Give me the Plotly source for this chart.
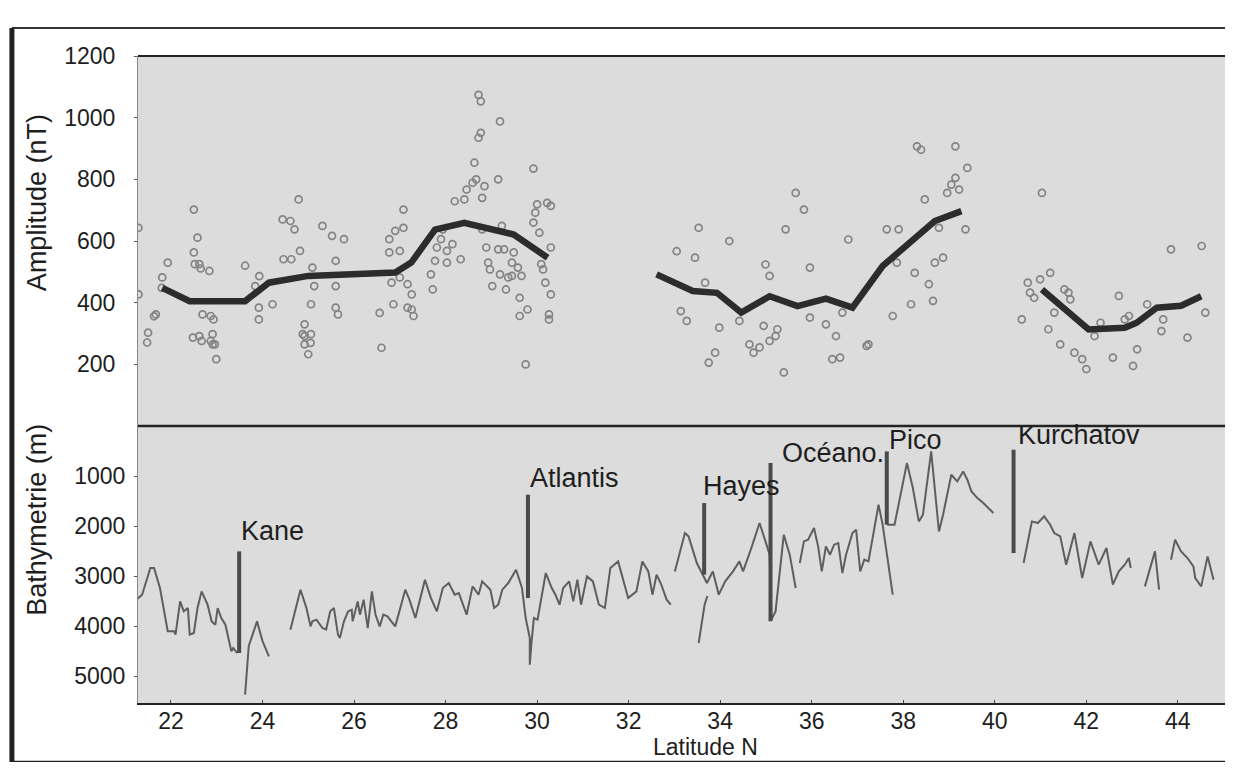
import plotly.graph_objects as go

# ---------------- data ----------------
amp_lat = [21.29, 21.29, 21.50, 21.48, 21.63, 21.67, 21.81, 21.93, 21.80,
           22.50, 22.58, 22.50, 22.52, 22.62, 22.65, 22.84, 22.48, 22.62, 22.67, 22.69,
           22.87, 22.87, 22.91, 22.96, 22.91, 22.99, 22.93,
           23.62, 23.84, 23.93, 23.92, 23.92, 24.22,
           24.44, 24.61, 24.70, 24.79, 24.46, 24.63, 24.82, 25.09, 25.13, 25.06, 24.92,
           24.88, 24.92, 25.06, 24.92, 25.00, 25.05,
           25.31, 25.52, 25.78, 25.60, 25.60, 25.60, 25.65,
           26.56, 26.60, 26.77, 26.77, 26.82, 26.86, 26.90, 27.08, 27.08, 27.00, 27.00,
           27.17, 27.26, 27.17, 27.26, 27.30,
           27.68, 27.72, 27.77, 27.81, 27.90, 27.94, 28.03, 28.03, 28.15, 28.20, 28.33,
           28.41, 28.46, 28.59, 28.67, 28.63, 28.72, 28.77, 28.72, 28.77, 28.80, 28.85,
           28.80, 28.89, 28.93, 28.97, 29.02, 29.15, 29.19, 29.23, 29.15, 29.19, 29.28,
           29.32, 29.37, 29.45, 29.45, 29.49, 29.58, 29.66, 29.62, 29.62, 29.75, 29.79,
           29.92, 29.92, 29.96, 30.00, 30.05, 30.09, 30.13, 30.18, 30.22, 30.30, 30.30,
           30.30, 30.26, 30.26,
           33.05, 33.53, 33.45, 33.67, 33.14, 33.27, 34.20, 33.98, 34.42, 33.89, 33.75,
           34.64, 34.73, 34.86, 34.95, 34.99, 35.08, 35.08, 35.25, 35.21, 35.43, 35.65,
           35.83, 35.96, 35.39, 35.96, 36.31, 36.53, 36.45, 36.62, 36.67, 36.80, 37.24,
           37.20, 37.64, 37.90, 37.77, 37.86, 38.17, 38.25, 38.30, 38.39, 38.47, 38.56,
           38.65, 38.69, 38.87, 38.78, 38.96, 39.05, 39.14, 39.14, 39.22, 39.40, 39.36,
           41.03, 40.59, 40.72, 40.77, 40.86, 40.99, 41.21, 41.17, 41.30, 41.43, 41.52,
           41.61, 41.65, 41.74, 41.91, 42.00, 42.18, 42.31, 42.58, 42.71, 42.84, 42.93,
           43.02, 43.11, 43.33, 43.68, 43.64, 43.85, 44.21, 44.52, 44.60]
amp_val = [643, 427, 303, 271, 356, 362, 482, 530, 448,
           702, 611, 563, 525, 525, 511, 503, 287, 292, 276, 362,
           357, 276, 265, 265, 298, 217, 346,
           520, 454, 486, 384, 346, 395,
           670, 665, 638, 735, 541, 541, 568, 514, 454, 395, 330,
           298, 292, 298, 265, 233, 270,
           649, 617, 606, 536, 454, 384, 362,
           367, 254, 606, 563, 465, 395, 633, 702, 643, 568, 482,
           460, 427, 384, 378, 357,
           492, 443, 536, 579, 606, 638, 568, 530, 590, 729, 541,
           735, 767, 789, 800, 854, 935, 951, 1074, 1053, 740, 778,
           638, 579, 530, 508, 454, 800, 988, 649, 573, 492, 573,
           443, 482, 530, 487, 563, 514, 487, 416, 357, 200, 378,
           835, 660, 692, 719, 627, 525, 508, 465, 724, 714, 579,
           427, 362, 346,
           567, 643, 546, 465, 373, 341, 600, 319, 341, 238, 206,
           265, 238, 255, 325, 524, 487, 276, 314, 292, 638, 756,
           702, 514, 174, 352, 330, 292, 217, 222, 368, 605, 265,
           260, 638, 638, 357, 530, 395, 497, 907, 896, 735, 460,
           406, 530, 546, 643, 756, 783, 907, 805, 767, 837, 638,
           756, 346, 465, 433, 416, 476, 497, 314, 368, 265, 443,
           433, 411, 238, 217, 185, 292, 335, 222, 422, 346, 357,
           195, 249, 395, 346, 308, 573, 287, 584, 368]

trend_lat = [21.81, 22.41, 23.62, 24.14, 25.00, 26.90, 27.25, 27.77, 28.41, 29.49, 30.23, None,
             32.61, 33.40, 33.93, 34.46, 35.08, 35.69, 36.31, 36.89, 37.55, 38.69, 39.27, None,
             41.03, 42.05, 42.84, 43.10, 43.54, 44.07, 44.51]
trend_val = [448, 405, 405, 465, 487, 498, 530, 637, 659, 621, 546, None,
             492, 438, 432, 368, 421, 389, 413, 384, 519, 665, 697, None,
             443, 313, 319, 335, 384, 390, 421]

bathy_lat = [21.25, 21.37, 21.55, 21.63, 21.76, 21.93, 22.07, 22.10, 22.20, 22.28, 22.37, 22.41,
             22.50, 22.58, 22.67, 22.80, 22.89, 22.97, 23.02, 23.10, 23.19, 23.32, 23.36, 23.45, None,
             23.62, 23.70, 23.88, 24.00, 24.14, None,
             24.61, 24.83, 24.96, 25.05, 25.09, 25.18, 25.31, 25.39, 25.48, 25.56, 25.65, 25.69,
             25.78, 25.87, 25.95, 25.97, 26.08, 26.13, 26.21, 26.30, 26.39, 26.47, 26.56, 26.64,
             26.73, 26.82, 26.90, 27.12, 27.21, 27.34, 27.55, 27.68, 27.81, 27.94, 28.07, 28.20,
             28.29, 28.46, 28.59, 28.72, 28.80, 28.98, 29.06, 29.15, 29.24, 29.37, 29.54, 29.67,
             29.75, 29.84, 29.84, 29.88, 29.93, 30.01, 30.19, 30.32, 30.40, 30.49, 30.57, 30.70,
             30.79, 30.88, 30.96, 31.09, 31.22, 31.35, 31.48, 31.60, 31.77, 31.99, 32.17, 32.30,
             32.43, 32.52, 32.61, 32.70, 32.79, 32.83, 32.92, None,
             33.01, 33.23, 33.31, 33.49, 33.62, 33.71, 33.84, 33.97, 34.11, 34.28, 34.42, 34.50,
             34.68, 34.86, 34.99, 35.08, 35.12, 35.21, 35.39, 35.52, 35.65, None,
             33.53, 33.60, 33.66, 33.72, None,
             35.74, 35.83, 35.92, 36.05, 36.14, 36.22, 36.31, 36.40, 36.49, 36.58, 36.67, 36.75,
             36.89, 36.97, 37.06, 37.15, 37.24, 37.46, 37.55, 37.64, 37.77, None,
             37.65, 37.81, 38.08, 38.21, 38.34, 38.43, 38.61, 38.69, 38.78, 38.87, 39.05, 39.18,
             39.31, 39.40, 39.49, 39.62, 39.75, 39.97, None,
             40.63, 40.81, 40.94, 41.08, 41.21, 41.30, 41.43, 41.56, 41.74, 41.91, 42.09, 42.27,
             42.44, 42.58, 42.71, 42.84, 42.93, 42.97, None,
             43.28, 43.50, 43.59, None,
             43.85, 43.94, 44.07, 44.21, 44.34, 44.38, 44.51, 44.65, 44.78]
bathy_dep = [3473, 3373, 2840, 2840, 3240, 4107, 4107, 4173, 3507, 3707, 3640, 4173,
             4140, 3640, 3307, 3573, 3907, 3973, 3640, 3840, 3973, 4507, 4440, 4540, None,
             5373, 4400, 3907, 4300, 4607, None,
             4073, 3273, 3640, 4007, 3907, 3873, 4040, 4073, 3707, 3640, 4173, 4240,
             3907, 3707, 3673, 3907, 3507, 3773, 3473, 4040, 3307, 3773, 4007, 3773,
             3807, 3907, 4007, 3273, 3473, 3840, 3073, 3440, 3707, 3240, 3140, 3373,
             3340, 3773, 3207, 3373, 3107, 3273, 3640, 3573, 3273, 3140, 2873, 3240,
             3840, 4240, 4773, 4307, 3840, 3873, 2940, 3240, 3373, 3573, 3240, 3107,
             3507, 3073, 3573, 3007, 3107, 3573, 3640, 2840, 2707, 3440, 3307, 2707,
             2907, 3373, 2973, 3140, 3373, 3473, 3573, None,
             2907, 2140, 2207, 2740, 2973, 3140, 2907, 3373, 3107, 2907, 2707, 2907,
             2440, 1940, 2307, 2573, 3873, 3707, 2173, 2573, 3240, None,
             4340, 3900, 3573, 3400, None,
             2740, 2307, 2273, 2040, 2407, 2907, 2407, 2573, 2373, 2340, 2940, 2573,
             2140, 2073, 2907, 2673, 2707, 1573, 1973, 2573, 3373, None,
             1973, 1973, 740, 1240, 1907, 1773, 507, 1240, 2107, 1773, 973, 1107,
             907, 1073, 1307, 1440, 1540, 1740, None,
             2740, 1907, 1940, 1807, 1973, 2140, 2207, 2773, 2140, 3040, 2307, 2773,
             2440, 3173, 2907, 2773, 2640, 2840, None,
             3207, 2507, 3273, None,
             2673, 2273, 2507, 2640, 2807, 3040, 3207, 2607, 3073]

fz_names = ["Kane", "Atlantis", "Hayes", "Océano.", "Pico", "Kurchatov"]
fz_bar_lat = [23.49, 29.80, 33.65, 35.10, 37.64, 40.41]
fz_bar_top = [2507, 1373, 1540, 740, 507, 473]
fz_bar_bottom = [4540, 3440, 2973, 3907, 1973, 2540]
fz_label_lat = [23.53, 29.84, 33.62, 35.34, 37.68, 40.50]
fz_label_dep = [2100, 1040, 1200, 540, 270, 180]

x_ticks = [22, 24, 26, 28, 30, 32, 34, 36, 38, 40, 42, 44]
amp_ticks = [200, 400, 600, 800, 1000, 1200]
bathy_ticks = [1000, 2000, 3000, 4000, 5000]

# ---------------- figure ----------------
FONT = "Liberation Sans, Arial, sans-serif"
INK = "#1e1e1e"
fig = go.Figure()

fig.add_trace(go.Scatter(
    x=amp_lat, y=amp_val, mode="markers", xaxis="x", yaxis="y",
    marker=dict(symbol="circle-open", size=7, color="#838383", line=dict(width=1.7, color="#838383")),
    showlegend=False, hoverinfo="skip"))

fig.add_trace(go.Scatter(
    x=trend_lat, y=trend_val, mode="lines", xaxis="x", yaxis="y",
    line=dict(color="#2c2c2c", width=6.5), connectgaps=False,
    showlegend=False, hoverinfo="skip"))

fig.add_trace(go.Scatter(
    x=bathy_lat, y=bathy_dep, mode="lines", xaxis="x2", yaxis="y2",
    line=dict(color="#5e5e5e", width=2), connectgaps=False,
    showlegend=False, hoverinfo="skip"))

bar_x, bar_y = [], []
for lat, top, bot in zip(fz_bar_lat, fz_bar_top, fz_bar_bottom):
    bar_x += [lat, lat, None]
    bar_y += [top, bot, None]
fig.add_trace(go.Scatter(
    x=bar_x, y=bar_y, mode="lines", xaxis="x2", yaxis="y2",
    line=dict(color="#4a4a4a", width=4), connectgaps=False,
    showlegend=False, hoverinfo="skip"))

for name, lat, dep in zip(fz_names, fz_label_lat, fz_label_dep):
    fig.add_annotation(x=lat, y=dep, xref="x2", yref="y2", text=name, showarrow=False,
                       xanchor="left", yanchor="middle", xshift=-2,
                       font=dict(family=FONT, size=27, color=INK))

# axis titles as annotations (exact placement)
fig.add_annotation(x=-0.093, y=0.774, xref="paper", yref="paper", text="Amplitude (nT)",
                   textangle=-90, showarrow=False, xanchor="center", yanchor="middle",
                   font=dict(family=FONT, size=27, color=INK))
fig.add_annotation(x=-0.093, y=0.283, xref="paper", yref="paper", text="Bathymetrie (m)",
                   textangle=-90, showarrow=False, xanchor="center", yanchor="middle",
                   font=dict(family=FONT, size=27, color=INK))
fig.add_annotation(x=0.522, y=-0.0685, xref="paper", yref="paper", text="Latitude N",
                   showarrow=False, xanchor="center", yanchor="middle",
                   font=dict(family=FONT, size=23, color=INK))

XR = [21.28, 45.03]
split = 0.428
fig.update_layout(
    width=1217, height=754,
    margin=dict(l=130, r=0, t=48, b=59, autoexpand=False),
    paper_bgcolor="white", plot_bgcolor="#dcdcdc",
    font=dict(family=FONT, size=23, color=INK),
    xaxis=dict(domain=[0, 1], range=XR, anchor="y", showticklabels=False, ticks="",
               showgrid=False, zeroline=False, showline=False, automargin=False),
    xaxis2=dict(domain=[0, 1], range=XR, anchor="y2", tickvals=x_ticks, ticks="inside",
                ticklen=3, tickcolor="#444", showgrid=False, zeroline=False,
                showline=True, linecolor="#222", linewidth=2, automargin=False,
                tickfont=dict(family=FONT, size=23, color=INK), ticklabelstandoff=-4),
    yaxis=dict(domain=[split, 1], range=[0, 1200], tickvals=amp_ticks, ticks="outside",
               ticklen=3, tickcolor="#555", showgrid=False, zeroline=False,
               showline=True, linecolor="#888", linewidth=1, automargin=False,
               tickfont=dict(family=FONT, size=23, color=INK), ticklabelstandoff=14),
    yaxis2=dict(domain=[0, split], range=[5540, 0], tickvals=bathy_ticks, ticks="outside",
                ticklen=3, tickcolor="#555", showgrid=False, zeroline=False,
                showline=True, linecolor="#888", linewidth=1, automargin=False,
                tickfont=dict(family=FONT, size=23, color=INK), ticklabelstandoff=4),
)

# panel borders: top, separator
fig.add_shape(type="line", xref="paper", yref="paper", x0=0, x1=1, y0=1, y1=1,
              line=dict(color="#222", width=2))
fig.add_shape(type="line", xref="paper", yref="paper", x0=0, x1=1, y0=split, y1=split,
              line=dict(color="#222", width=2.5))
# outer frame of the figure
fig.add_shape(type="line", xref="paper", yref="paper", x0=-0.116, x1=1.01, y0=1.0433, y1=1.0433,
              line=dict(color="#333", width=2))
fig.add_shape(type="line", xref="paper", yref="paper", x0=-0.116, x1=-0.116, y0=1.0433, y1=-0.11,
              line=dict(color="#222", width=5))
fig.add_shape(type="line", xref="paper", yref="paper", x0=-0.116, x1=1.01, y0=-0.0915, y1=-0.0915,
              line=dict(color="#222", width=3))

fig.write_html("out.html")
